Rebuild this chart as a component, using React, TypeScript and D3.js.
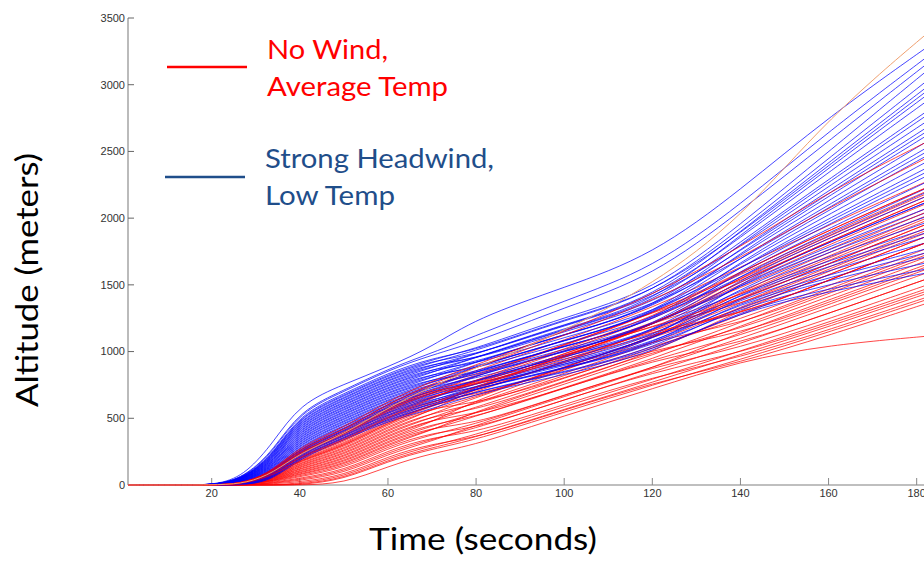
import React from 'react';
import * as d3 from 'd3';

// Sample times (seconds) shared by every simulated trajectory
const TIMES = [1, 12, 22, 28, 34, 40, 50, 60, 70, 80, 100, 120, 140, 160, 184];
const X_TICKS = [20, 40, 60, 80, 100, 120, 140, 160, 180];
const Y_TICKS = [0, 500, 1000, 1500, 2000, 2500, 3000, 3500];

// Strong headwind, low temp runs (altitude in meters at TIMES)
const blueRuns: number[][] = [
  [0, 0, 0, 70, 236, 533, 683, 840, 952, 1009, 1243, 1431, 1885, 2395, 2995],
  [0, 0, 0, 66, 230, 523, 673, 829, 940, 1021, 1259, 1448, 1950, 2500, 3150],
  [0, 0, 0, 65, 226, 516, 666, 821, 933, 974, 1198, 1383, 1788, 2238, 2763],
  [0, 0, 0, 63, 220, 506, 655, 810, 921, 1004, 1236, 1424, 1918, 2448, 3073],
  [0, 0, 0, 62, 216, 499, 648, 803, 913, 939, 1153, 1335, 1690, 2080, 2530],
  [0, 0, 0, 60, 210, 489, 638, 792, 902, 978, 1203, 1388, 1853, 2343, 2918],
  [0, 0, 0, 58, 206, 482, 631, 785, 894, 948, 1164, 1347, 1755, 2185, 2685],
  [0, 0, 0, 56, 200, 472, 620, 774, 882, 981, 1207, 1393, 1898, 2416, 3026],
  [0, 0, 0, 55, 196, 465, 613, 766, 874, 904, 1108, 1287, 1625, 1975, 2375],
  [0, 0, 0, 52, 190, 455, 603, 755, 863, 951, 1169, 1352, 1820, 2290, 2840],
  [0, 0, 0, 51, 186, 448, 596, 748, 855, 922, 1131, 1311, 1723, 2133, 2608],
  [0, 0, 0, 49, 180, 438, 585, 737, 843, 957, 1176, 1359, 1872, 2374, 2964],
  [0, 0, 0, 48, 176, 431, 578, 730, 835, 869, 1063, 1239, 1560, 1870, 2220],
  [0, 0, 0, 46, 170, 421, 568, 719, 824, 920, 1128, 1309, 1768, 2206, 2716],
  [0, 0, 0, 44, 166, 414, 561, 711, 816, 887, 1086, 1263, 1658, 2028, 2453],
  [0, 0, 0, 42, 160, 404, 550, 700, 804, 922, 1131, 1311, 1807, 2269, 2809],
  [0, 0, 0, 41, 156, 397, 543, 693, 796, 834, 1018, 1191, 1495, 1765, 2065],
  [0, 0, 0, 38, 150, 387, 533, 682, 785, 885, 1083, 1261, 1703, 2101, 2561],
  [0, 0, 0, 37, 146, 380, 526, 675, 777, 852, 1041, 1215, 1593, 1923, 2298],
  [0, 0, 0, 35, 140, 370, 515, 664, 765, 887, 1086, 1263, 1742, 2164, 2654],
  [0, 0, 0, 34, 136, 363, 508, 656, 757, 825, 1007, 1179, 1528, 1818, 2143],
  [0, 0, 0, 32, 130, 353, 498, 645, 746, 850, 1038, 1213, 1638, 1996, 2406],
  [0, 0, 0, 30, 126, 346, 491, 638, 738, 799, 973, 1143, 1463, 1713, 1988],
  [0, 0, 0, 28, 120, 336, 480, 627, 726, 852, 1041, 1215, 1677, 2059, 2499],
  [0, 0, 0, 27, 116, 329, 473, 619, 718, 820, 1000, 1172, 1573, 1891, 2251],
  [0, 0, 0, 25, 110, 319, 463, 608, 707, 776, 944, 1112, 1430, 1660, 1910],
  [0, 0, 0, 23, 106, 312, 456, 601, 699, 822, 1002, 1174, 1612, 1954, 2344],
  [0, 0, 0, 21, 100, 302, 445, 590, 687, 789, 960, 1129, 1508, 1786, 2096],
  [0, 0, 0, 20, 96, 295, 438, 583, 679, 755, 917, 1083, 1398, 1608, 1833],
  [0, 0, 0, 18, 90, 285, 428, 572, 668, 790, 962, 1131, 1547, 1849, 2189],
  [0, 0, 0, 16, 86, 278, 421, 564, 660, 738, 894, 1059, 1365, 1555, 1755],
  [0, 0, 0, 14, 80, 268, 410, 553, 648, 764, 928, 1095, 1482, 1744, 2034],
  [0, 0, 0, 12, 76, 261, 403, 546, 640, 720, 872, 1035, 1333, 1503, 1678],
  [0, 0, 0, 10, 70, 251, 393, 535, 629, 745, 903, 1069, 1443, 1681, 1941],
  [0, 0, 0, 8, 66, 244, 386, 528, 621, 724, 876, 1040, 1378, 1576, 1786],
  [0, 0, 0, 5, 60, 234, 375, 517, 609, 698, 843, 1004, 1300, 1450, 1600],
  [0, 0, 0, 4, 56, 227, 368, 509, 601, 726, 879, 1042, 1417, 1639, 1879],
  [0, 0, 0, 2, 50, 217, 358, 498, 590, 703, 849, 1011, 1352, 1534, 1724],
  [0, 0, 0, 0, 46, 210, 351, 491, 582, 747, 906, 1071, 1528, 1818, 2143],
  [0, 0, 0, 0, 40, 200, 340, 480, 570, 684, 825, 985, 1313, 1471, 1631],
  [0, 0, 0, 75, 260, 560, 710, 870, 990, 1120, 1380, 1620, 2100, 2650, 3250],
  [0, 0, 0, 72, 250, 550, 700, 860, 975, 1070, 1330, 1560, 2050, 2580, 3200],
  [0, 0, 0, 90, 320, 610, 755, 885, 1035, 1250, 1480, 1720, 2210, 2760, 3320],
];

// No wind, average temp runs (altitude in meters at TIMES)
const redRuns: number[][] = [
  [0, 0, 0, 20, 108, 279, 412, 611, 755, 824, 1052, 1289, 1524, 1826, 2162],
  [0, 0, 0, 19, 105, 271, 401, 598, 740, 857, 1086, 1325, 1630, 1950, 2300],
  [0, 0, 0, 19, 102, 265, 393, 589, 730, 770, 968, 1199, 1346, 1618, 1932],
  [0, 0, 0, 18, 99, 257, 382, 576, 716, 821, 1050, 1286, 1573, 1884, 2226],
  [0, 0, 0, 18, 97, 251, 374, 567, 706, 757, 982, 1214, 1417, 1701, 2024],
  [0, 0, 0, 17, 94, 242, 363, 554, 691, 816, 1044, 1280, 1595, 1909, 2254],
  [0, 0, 0, 17, 91, 237, 355, 545, 681, 720, 912, 1139, 1275, 1535, 1840],
  [0, 0, 0, 16, 88, 228, 344, 532, 666, 757, 982, 1214, 1474, 1767, 2098],
  [0, 0, 0, 16, 86, 222, 336, 523, 656, 778, 1005, 1238, 1545, 1850, 2190],
  [0, 0, 0, 15, 83, 214, 325, 510, 641, 670, 862, 1085, 1204, 1452, 1748],
  [0, 0, 0, 15, 80, 208, 317, 501, 631, 703, 926, 1154, 1382, 1660, 1978],
  [0, 0, 0, 14, 77, 200, 306, 488, 617, 740, 966, 1196, 1502, 1801, 2134],
  [0, 0, 0, 14, 75, 194, 298, 479, 607, 662, 884, 1109, 1311, 1577, 1886],
  [0, 0, 0, 13, 72, 185, 287, 466, 592, 700, 924, 1151, 1431, 1718, 2042],
  [0, 0, 0, 13, 69, 180, 279, 457, 582, 610, 800, 1019, 1133, 1369, 1656],
  [0, 0, 0, 12, 66, 171, 268, 444, 567, 659, 882, 1106, 1360, 1635, 1950],
  [0, 0, 0, 12, 64, 165, 260, 435, 557, 730, 954, 1184, 1559, 1867, 2208],
  [0, 0, 0, 11, 61, 157, 249, 422, 542, 600, 820, 1040, 1240, 1494, 1794],
  [0, 0, 0, 11, 58, 151, 241, 413, 532, 657, 879, 1103, 1403, 1684, 2006],
  [0, 0, 0, 10, 55, 143, 230, 400, 518, 560, 778, 995, 1169, 1411, 1702],
  [0, 0, 0, 10, 53, 137, 222, 391, 508, 616, 837, 1058, 1332, 1601, 1914],
  [0, 0, 0, 9, 50, 128, 211, 378, 493, 530, 722, 935, 1062, 1286, 1564],
  [0, 0, 0, 9, 47, 123, 203, 369, 483, 581, 800, 1019, 1275, 1535, 1840],
  [0, 0, 0, 8, 44, 114, 192, 356, 468, 641, 862, 1085, 1453, 1743, 2070],
  [0, 0, 0, 8, 42, 108, 184, 347, 458, 508, 725, 938, 1119, 1352, 1638],
  [0, 0, 0, 7, 39, 100, 173, 334, 443, 538, 756, 971, 1218, 1469, 1766],
  [0, 0, 0, 7, 36, 94, 165, 325, 433, 460, 674, 884, 1027, 1245, 1518],
  [0, 0, 0, 6, 33, 86, 154, 312, 419, 514, 730, 944, 1190, 1435, 1730],
  [0, 0, 0, 6, 31, 80, 146, 303, 409, 554, 772, 989, 1311, 1577, 1886],
  [0, 0, 0, 5, 28, 71, 135, 290, 394, 425, 638, 845, 991, 1203, 1472],
  [0, 0, 0, 4, 24, 63, 124, 277, 379, 457, 672, 881, 1098, 1328, 1610],
  [0, 0, 0, 0, 20, 51, 108, 259, 359, 392, 604, 809, 956, 1162, 1426],
  [0, 0, 0, 0, 16, 43, 97, 246, 344, 425, 638, 845, 1062, 1286, 1564],
  [0, 0, 0, 0, 13, 34, 86, 233, 329, 449, 663, 872, 1147, 1386, 1674],
  [0, 0, 0, 0, 9, 23, 70, 215, 310, 352, 562, 764, 920, 1120, 1380],
  [0, 0, 0, 0, 0, 14, 59, 202, 295, 376, 588, 791, 1005, 1220, 1490],
  [0, 0, 0, 0, 0, 6, 48, 189, 280, 357, 568, 770, 977, 1186, 1454],
  [0, 0, 0, 0, 0, 0, 40, 180, 270, 338, 548, 749, 941, 1145, 1408],
  [0, 0, 0, 18, 99, 257, 382, 576, 716, 750, 932, 1160, 1275, 1535, 1840],
  [0, 0, 0, 17, 96, 248, 371, 563, 701, 740, 966, 1196, 1382, 1660, 1978],
  [0, 0, 0, 15, 84, 217, 329, 514, 646, 792, 1019, 1253, 1595, 1909, 2254],
  [0, 0, 0, 13, 73, 188, 291, 470, 597, 738, 963, 1193, 1524, 1826, 2162],
  [0, 0, 0, 0, 0, 0, 10, 140, 240, 300, 520, 720, 930, 1050, 1120],
  [0, 0, 0, 20, 110, 290, 430, 630, 780, 900, 1150, 1420, 1780, 2200, 2600],
  [0, 0, 0, 19, 104, 275, 410, 610, 760, 880, 1120, 1380, 1700, 2080, 2480],
];

// One faint (orange-tinted) run
const faintRun: number[] = [0, 0, 0, 15, 90, 240, 380, 580, 740, 880, 1150, 1500, 1990, 2760, 3430];

const W = 924;
const H = 562;
const LEFT = 128;
const RIGHT = 924;
const TOP = 18;
const BOTTOM = 485;

export default function App() {
  const x = d3.scaleLinear().domain([1, 181.66]).range([LEFT, RIGHT]);
  const y = d3.scaleLinear().domain([0, 3500]).range([BOTTOM, TOP]);
  const line = d3
    .line<number>()
    .x((_, i) => x(TIMES[i]))
    .y((d) => y(d))
    .curve(d3.curveBasis);

  const order: { d: string; color: string; key: string }[] = [];
  const n = Math.max(blueRuns.length, redRuns.length);
  for (let i = 0; i < n; i++) {
    if (i < blueRuns.length) order.push({ d: line(blueRuns[i]) || '', color: '#0000ff', key: 'b' + i });
    if (i < redRuns.length) order.push({ d: line(redRuns[i]) || '', color: '#ff0000', key: 'r' + i });
  }

  const tickFont = 'Arial, "Liberation Sans", sans-serif';
  const titleFont = 'Lato, "Noto Sans", sans-serif';

  return (
    <svg
      width={W}
      height={H}
      style={{ position: 'absolute', left: 0, top: 0, background: '#fff' }}
    >
      <defs>
        <clipPath id="plot">
          <rect x={LEFT} y={0} width={RIGHT - LEFT} height={BOTTOM + 1} />
        </clipPath>
      </defs>
      <rect x={0} y={0} width={W} height={H} fill="#fff" />

      {/* axes */}
      <line x1={LEFT} x2={LEFT} y1={y(3500)} y2={BOTTOM} stroke="#aaa" strokeWidth={1.6} />
      <line x1={LEFT} x2={RIGHT} y1={BOTTOM} y2={BOTTOM} stroke="#aaa" strokeWidth={1.6} />
      {Y_TICKS.map((t) => (
        <g key={'y' + t}>
          <line x1={LEFT} x2={LEFT + 6} y1={y(t)} y2={y(t)} stroke="#666" strokeWidth={1} />
          <text
            x={LEFT - 3}
            y={y(t)}
            dy="0.35em"
            textAnchor="end"
            fontFamily={tickFont}
            fontSize={11}
            fill="#333"
          >
            {t}
          </text>
        </g>
      ))}
      {X_TICKS.map((t) => (
        <g key={'x' + t}>
          <line x1={x(t)} x2={x(t)} y1={BOTTOM} y2={BOTTOM - 7} stroke="#888" strokeWidth={1} />
          <text
            x={x(t)}
            y={BOTTOM + 12}
            textAnchor="middle"
            fontFamily={tickFont}
            fontSize={11}
            fill="#333"
          >
            {t}
          </text>
        </g>
      ))}

      {/* trajectories */}
      <g clipPath="url(#plot)" fill="none">
        {order.map((o) => (
          <path key={o.key} d={o.d} stroke={o.color} strokeWidth={1} strokeOpacity={0.72} />
        ))}
        <path d={line(faintRun) || ''} stroke="#f0a070" strokeWidth={1} />
      </g>

      {/* axis titles */}
      <text
        transform={`translate(38, 280) rotate(-90)`}
        textAnchor="middle"
        fontFamily={titleFont}
        fontSize={30}
        fill="#000"
        textLength={254}
        lengthAdjust="spacingAndGlyphs"
      >
        Altitude (meters)
      </text>
      <text
        x={483}
        y={550}
        textAnchor="middle"
        fontFamily={titleFont}
        fontSize={30}
        fill="#000"
        textLength={228}
        lengthAdjust="spacingAndGlyphs"
      >
        Time (seconds)
      </text>

      {/* legend */}
      <line x1={167} x2={247} y1={67} y2={67} stroke="#ff0000" strokeWidth={2.5} />
      <text x={267} y={59} fontFamily={titleFont} fontSize={26.5} fill="#ff0000" textLength={121} lengthAdjust="spacingAndGlyphs">
        No Wind,
      </text>
      <text x={267} y={96} fontFamily={titleFont} fontSize={26.5} fill="#ff0000" textLength={181} lengthAdjust="spacingAndGlyphs">
        Average Temp
      </text>
      <line x1={165} x2={245} y1={177} y2={177} stroke="#1f4e8a" strokeWidth={2.5} />
      <text x={265} y={168} fontFamily={titleFont} fontSize={26.5} fill="#1f4e8a" textLength={229} lengthAdjust="spacingAndGlyphs">
        Strong Headwind,
      </text>
      <text x={265} y={205} fontFamily={titleFont} fontSize={26.5} fill="#1f4e8a" textLength={130} lengthAdjust="spacingAndGlyphs">
        Low Temp
      </text>
    </svg>
  );
}
